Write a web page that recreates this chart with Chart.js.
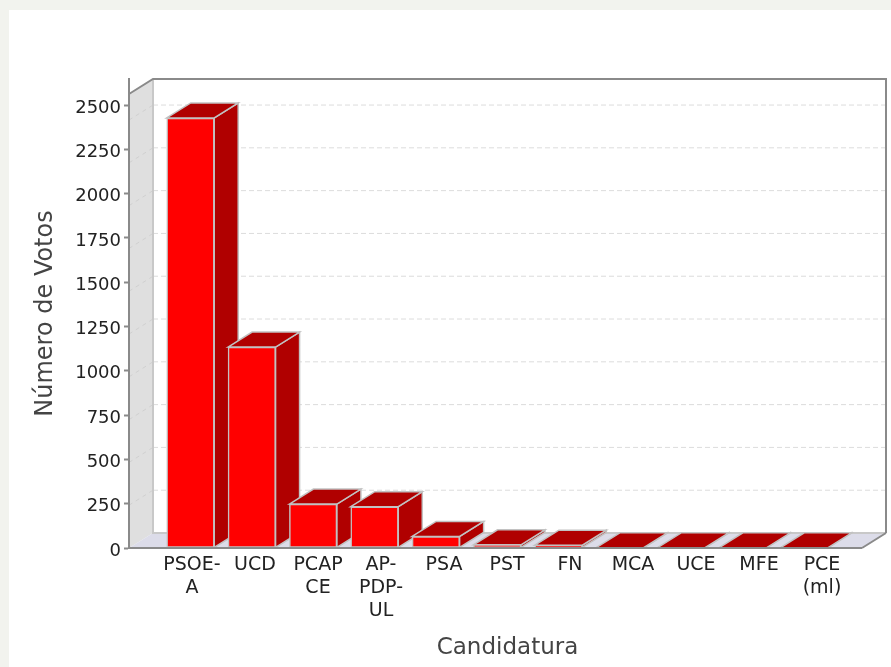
<!DOCTYPE html>
<html>
<head>
<meta charset="utf-8">
<title>Número de Votos</title>
<script src="https://cdn.jsdelivr.net/npm/chart.js@4"></script>
<style>
  body { margin: 0; background: #f2f3ee; overflow: hidden; }
  #panel { position: absolute; left: 9px; top: 10px; right: 0; bottom: 0; background: #fff; }
  #votes { position: absolute; left: 0; top: 0; filter: blur(0.6px); }
</style>
</head>
<body>
<div id="panel"></div>
<canvas id="votes" width="891" height="667"></canvas>
<script>
const categories = [["PSOE-", "A"], "UCD", ["PCAP", "CE"], ["AP-", "PDP-", "UL"], "PSA", "PST", "FN", "MCA", "UCE", "MFE", ["PCE", "(ml)"]];
const votes = [2427, 1134, 248, 233, 65, 18, 16, 2, 2, 1, 1];
const yTicks = [0, 250, 500, 750, 1000, 1250, 1500, 1750, 2000, 2250, 2500];

// 3D box offset, the back wall sits up and to the right of the front
const depthX = 24;
const depthY = 15;
const backRatio = 428 / 443; // back wall gridlines are a bit tighter than the axis ticks

const axisGrey = '#8a8a8a';
const edgeGrey = '#c2c2c2';

function poly(ctx, pts, fill, stroke, width) {
  ctx.beginPath();
  pts.forEach((p, i) => i ? ctx.lineTo(p[0], p[1]) : ctx.moveTo(p[0], p[1]));
  ctx.closePath();
  if (fill) {
    ctx.fillStyle = fill;
    ctx.fill();
  }
  if (stroke) {
    ctx.strokeStyle = stroke;
    ctx.lineWidth = width || 1;
    ctx.stroke();
  }
}

const box3d = {
  id: 'box3d',
  beforeDraw(chart) {
    const ctx = chart.ctx;
    const a = chart.chartArea;
    const y = chart.scales.y;
    const front = a.right - depthX;
    const floor = a.bottom - depthY;
    ctx.save();
    // side wall and floor
    poly(ctx, [[a.left, a.top + depthY], [a.left + depthX, a.top], [a.left + depthX, floor], [a.left, a.bottom]], '#dfdfdf');
    poly(ctx, [[a.left, a.bottom], [a.left + depthX, floor], [a.right, floor], [front, a.bottom]], '#dcdce9');

    // gridlines on the wall
    yTicks.slice(1).forEach(v => {
      const py = y.getPixelForValue(v * backRatio) - depthY;
      ctx.strokeStyle = '#d0d0d0';
      ctx.lineWidth = 1;
      ctx.setLineDash([4, 4]);
      ctx.beginPath();
      ctx.moveTo(a.left, py + depthY);
      ctx.lineTo(a.left + depthX, py);
      ctx.stroke();
      ctx.strokeStyle = '#dcdcdc';
      ctx.setLineDash([5, 3]);
      ctx.beginPath();
      ctx.moveTo(a.left + depthX, py);
      ctx.lineTo(a.right, py);
      ctx.stroke();
    });
    ctx.setLineDash([]);

    // box edges
    ctx.strokeStyle = '#c8c8c8';
    ctx.lineWidth = 2;
    ctx.beginPath();
    ctx.moveTo(a.left + depthX, a.top);
    ctx.lineTo(a.left + depthX, floor);
    ctx.lineTo(a.right, floor);
    ctx.stroke();
    ctx.strokeStyle = axisGrey;
    ctx.beginPath();
    ctx.moveTo(a.left, a.top + depthY);
    ctx.lineTo(a.left + depthX, a.top);
    ctx.lineTo(a.right, a.top);
    ctx.lineTo(a.right, floor);
    ctx.stroke();
    ctx.restore();
  },
  beforeDatasetsDraw(chart) {
    const ctx = chart.ctx;
    ctx.save();
    chart.getDatasetMeta(0).data.forEach(bar => {
      const l = bar.x - bar.width / 2;
      const r = bar.x + bar.width / 2;
      poly(ctx, [[r, bar.y], [r + depthX, bar.y - depthY], [r + depthX, bar.base - depthY], [r, bar.base]], '#b00000', edgeGrey, 1.5);
      poly(ctx, [[l, bar.y], [l + depthX, bar.y - depthY], [r + depthX, bar.y - depthY], [r, bar.y]], '#b00000', edgeGrey, 1.5);
    });
    ctx.restore();
  },
  afterDatasetsDraw(chart) {
    const ctx = chart.ctx;
    const a = chart.chartArea;
    ctx.save();
    ctx.strokeStyle = axisGrey;
    ctx.lineWidth = 2;
    ctx.beginPath();
    ctx.moveTo(a.right - depthX, a.bottom);
    ctx.lineTo(a.right, a.bottom - depthY);
    ctx.moveTo(a.left, a.bottom);
    ctx.lineTo(a.right - depthX, a.bottom);
    ctx.stroke();
    ctx.restore();
  }
};

new Chart(document.getElementById('votes'), {
  type: 'bar',
  data: {
    datasets: [{
      data: votes.map((v, i) => ({ x: i, y: v })),
      backgroundColor: '#ff0000',
      borderColor: edgeGrey,
      borderWidth: 1.5,
      borderSkipped: false,
      barThickness: 47.5
    }]
  },
  options: {
    responsive: false,
    animation: false,
    layout: { padding: { top: 79, right: 5, left: 0, bottom: 0 } },
    plugins: { legend: { display: false }, tooltip: { enabled: false } },
    scales: {
      // bars sit on this one, the labels below use a slightly wider spacing
      x: {
        type: 'linear',
        display: false,
        offset: false,
        min: -1.002,
        max: 11.337,
        grid: { display: false }
      },
      xLabels: {
        type: 'linear',
        position: 'bottom',
        offset: false,
        min: -1,
        max: 11.016,
        afterFit: s => { s.height = 119; },
        border: { display: false },
        grid: { display: false, drawTicks: false },
        ticks: {
          stepSize: 1,
          includeBounds: false,
          autoSkip: false,
          maxRotation: 0,
          minRotation: 0,
          padding: 6,
          color: '#222',
          font: { family: 'DejaVu Sans', size: 19, lineHeight: 1.21 },
          callback: v => categories[v] === undefined ? '' : categories[v]
        },
        title: {
          display: true,
          text: 'Candidatura',
          color: '#444',
          padding: { top: 0, bottom: 5 },
          font: { family: 'DejaVu Sans', size: 23 }
        }
      },
      y: {
        min: 0,
        max: 2647,
        afterFit: s => { s.width = 129; },
        border: { color: axisGrey, width: 2 },
        grid: { drawOnChartArea: false, color: axisGrey, tickLength: 5, tickWidth: 2 },
        ticks: {
          stepSize: 250,
          includeBounds: false,
          padding: 3,
          labelOffset: 3,
          color: '#222',
          font: { family: 'DejaVu Sans', size: 18 },
          callback: v => String(v)
        },
        title: {
          display: true,
          text: 'Número de Votos',
          color: '#444',
          padding: { top: 31, bottom: 0 },
          font: { family: 'DejaVu Sans', size: 24 }
        }
      }
    }
  },
  plugins: [box3d]
});
</script>
</body>
</html>
